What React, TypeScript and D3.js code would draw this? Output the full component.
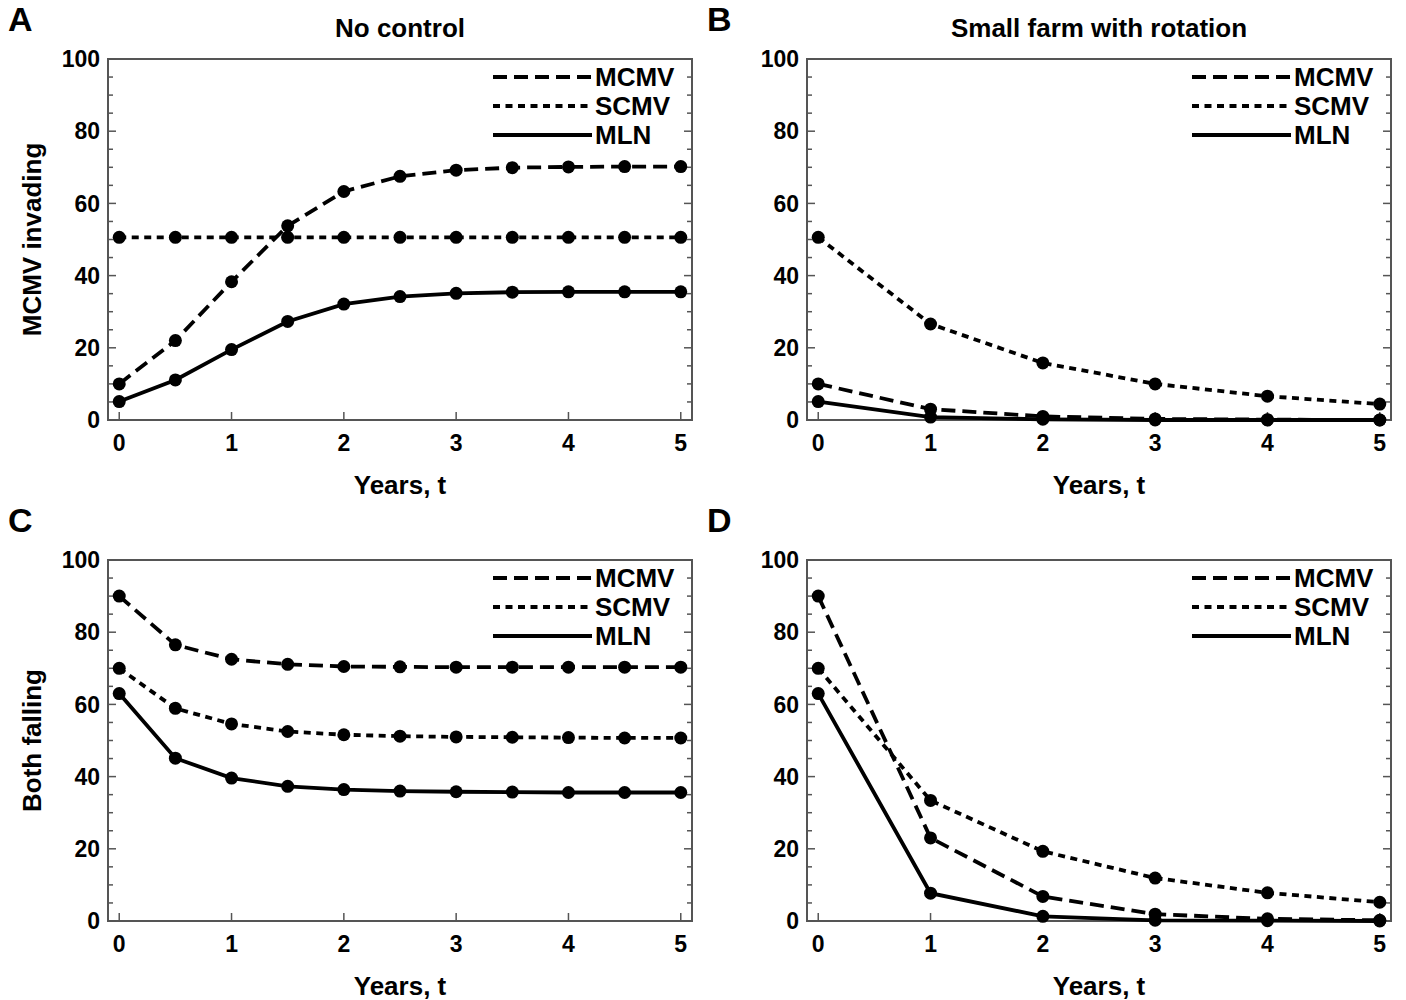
import React from "react";
import * as d3 from "d3";

const halfYears = [0, 0.5, 1, 1.5, 2, 2.5, 3, 3.5, 4, 4.5, 5];
const wholeYears = [0, 1, 2, 3, 4, 5];
const xTicks = [0, 1, 2, 3, 4, 5];
const yTicks = [0, 20, 40, 60, 80, 100];
const yMinorTicks = [0, 5, 10, 15, 20, 25, 30, 35, 40, 45, 50, 55, 60, 65, 70, 75, 80, 85, 90, 95, 100];
const seriesNames = ["MCMV", "SCMV", "MLN"];

// Panel A: No control, MCMV invading
const aMCMV = [10, 22, 38.3, 53.8, 63.3, 67.5, 69.2, 69.9, 70.1, 70.2, 70.2];
const aSCMV = [50.6, 50.6, 50.6, 50.6, 50.6, 50.6, 50.6, 50.6, 50.6, 50.6, 50.6];
const aMLN = [5.1, 11.1, 19.5, 27.3, 32.1, 34.2, 35.1, 35.4, 35.5, 35.5, 35.5];

// Panel B: Small farm with rotation, MCMV invading
const bMCMV = [10, 3.0, 1.0, 0.3, 0.1, 0.0];
const bSCMV = [50.6, 26.6, 15.8, 10.0, 6.6, 4.4];
const bMLN = [5.1, 0.8, 0.2, 0.0, 0.0, 0.0];

// Panel C: No control, both falling
const cMCMV = [90, 76.5, 72.5, 71.1, 70.5, 70.4, 70.3, 70.3, 70.3, 70.3, 70.3];
const cSCMV = [70, 58.9, 54.6, 52.5, 51.6, 51.2, 51.0, 50.9, 50.8, 50.7, 50.7];
const cMLN = [63, 45.1, 39.6, 37.3, 36.4, 36.0, 35.8, 35.7, 35.6, 35.6, 35.6];

// Panel D: Small farm with rotation, both falling
const dMCMV = [90, 23.0, 6.8, 1.9, 0.6, 0.2];
const dSCMV = [70, 33.4, 19.3, 11.9, 7.8, 5.2];
const dMLN = [63, 7.7, 1.3, 0.2, 0.1, 0.0];

const FONT = "'Liberation Sans', Arial, Helvetica, sans-serif";
const dashes: Record<string, string | undefined> = {
  MCMV: "14,7",
  SCMV: "7,5.5",
  MLN: undefined,
};

const W = 584;
const H = 361;

type PanelProps = {
  left: number;
  top: number;
  letter: string;
  title?: string;
  yLabel?: string;
  xs: number[];
  data: number[][];
};

function Panel({ left, top, letter, title, yLabel, xs, data }: PanelProps) {
  const x = d3.scaleLinear().domain([-0.1, 5.1]).range([0, W]);
  const y = d3.scaleLinear().domain([0, 100]).range([H, 0]);
  const line = d3
    .line<[number, number]>()
    .x((d) => x(d[0]))
    .y((d) => y(d[1]));
  const frame = "#555";
  return (
    <g transform={`translate(${left},${top})`}>
      <text x={-100} y={-28} fontSize={34} fontWeight="bold" fontFamily={FONT}>
        {letter}
      </text>
      {title && (
        <text x={W / 2} y={-22} textAnchor="middle" fontSize={26} fontWeight="bold" fontFamily={FONT}>
          {title}
        </text>
      )}
      {yLabel && (
        <text
          transform={`translate(${-67},${H / 2}) rotate(-90)`}
          textAnchor="middle"
          fontSize={26}
          fontWeight="bold"
          fontFamily={FONT}
        >
          {yLabel}
        </text>
      )}
      {/* frame */}
      <rect x={0} y={0} width={W} height={H} fill="none" stroke={frame} strokeWidth={2} />
      {/* left ticks */}
      {yMinorTicks.map((t) => (
        <line key={"l" + t} x1={0} x2={t % 20 === 0 ? 8 : 5} y1={y(t)} y2={y(t)} stroke={frame} strokeWidth={1.5} />
      ))}
      {/* right ticks */}
      {yMinorTicks.map((t) => (
        <line key={"r" + t} x1={W} x2={W - (t % 20 === 0 ? 8 : 5)} y1={y(t)} y2={y(t)} stroke={frame} strokeWidth={1.5} />
      ))}
      {/* bottom ticks */}
      {xTicks.map((t) => (
        <line key={"b" + t} x1={x(t)} x2={x(t)} y1={H} y2={H - 8} stroke={frame} strokeWidth={1.5} />
      ))}
      {yTicks.map((t) => (
        <text key={"yl" + t} x={-8} y={y(t)} dy="0.36em" textAnchor="end" fontSize={23} fontWeight="bold" fontFamily={FONT}>
          {t}
        </text>
      ))}
      {xTicks.map((t) => (
        <text key={"xl" + t} x={x(t)} y={H + 31} textAnchor="middle" fontSize={23} fontWeight="bold" fontFamily={FONT}>
          {t}
        </text>
      ))}
      <text x={W / 2} y={H + 74} textAnchor="middle" fontSize={26} fontWeight="bold" fontFamily={FONT}>
        Years, t
      </text>
      {/* series */}
      {data.map((vals, i) => {
        const pts: [number, number][] = xs.map((xv, j) => [xv, vals[j]]);
        const name = seriesNames[i];
        return (
          <g key={name}>
            <path d={line(pts) || ""} fill="none" stroke="#000" strokeWidth={3.8} strokeDasharray={dashes[name]} />
            {pts.map((p, j) => (
              <circle key={j} cx={x(p[0])} cy={y(p[1])} r={6.5} fill="#000" />
            ))}
          </g>
        );
      })}
      {/* legend */}
      {seriesNames.map((name, i) => {
        const ly = 18 + i * 29;
        return (
          <g key={"lg" + name}>
            <line x1={385} x2={484} y1={ly} y2={ly} stroke="#000" strokeWidth={3.8} strokeDasharray={dashes[name]} />
            <text x={487} y={ly} dy="0.36em" fontSize={26} fontWeight="bold" fontFamily={FONT}>
              {name}
            </text>
          </g>
        );
      })}
    </g>
  );
}

export default function App() {
  return (
    <svg
      width={1406}
      height={1000}
      style={{ position: "absolute", left: 0, top: 0, background: "#fff" }}
    >
      <rect x={0} y={0} width={1406} height={1000} fill="#fff" />
      <Panel left={108} top={59} letter="A" title="No control" yLabel="MCMV invading" xs={halfYears} data={[aMCMV, aSCMV, aMLN]} />
      <Panel left={807} top={59} letter="B" title="Small farm with rotation" xs={wholeYears} data={[bMCMV, bSCMV, bMLN]} />
      <Panel left={108} top={560} letter="C" yLabel="Both falling" xs={halfYears} data={[cMCMV, cSCMV, cMLN]} />
      <Panel left={807} top={560} letter="D" xs={wholeYears} data={[dMCMV, dSCMV, dMLN]} />
    </svg>
  );
}
